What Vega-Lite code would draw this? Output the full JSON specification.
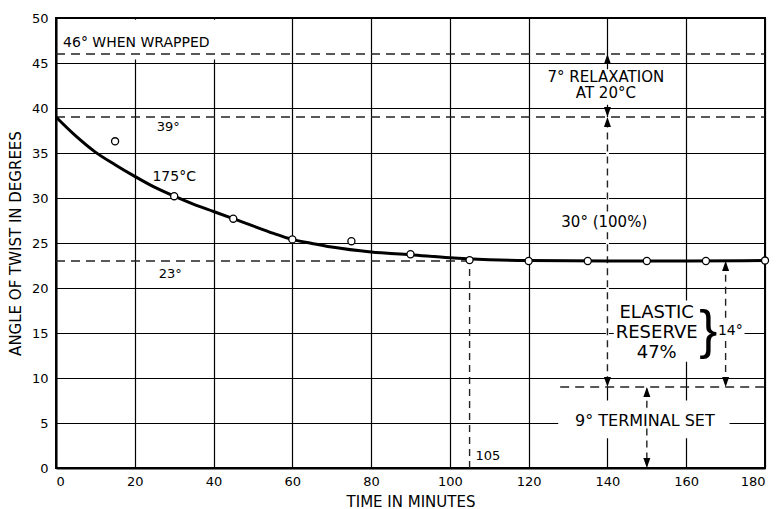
{
  "$schema": "https://vega.github.io/schema/vega-lite/v6.json",
  "width": 709,
  "height": 450,
  "autosize": {"type": "none"},
  "padding": {"left": 56, "top": 18, "right": 17, "bottom": 41},
  "background": "white",
  "config": {
    "font": "DejaVu Sans",
    "view": {"stroke": "black", "strokeWidth": 2},
    "axis": {
      "grid": true, "gridColor": "black", "gridOpacity": 1, "gridWidth": 1.2,
      "domainColor": "black", "domainWidth": 2, "ticks": false,
      "labelColor": "black", "labelFontSize": 13, "titleColor": "black",
      "titleFontSize": 15, "titleFontWeight": "normal"
    }
  },
  "datasets": {
    "curve": [
      {"x": 0, "y": 39.0}, {"x": 5, "y": 36.9}, {"x": 10, "y": 35.1}, {"x": 15, "y": 33.7},
      {"x": 20, "y": 32.4}, {"x": 25, "y": 31.2}, {"x": 30, "y": 30.2}, {"x": 35, "y": 29.3},
      {"x": 40, "y": 28.5}, {"x": 45, "y": 27.7}, {"x": 50, "y": 26.9}, {"x": 55, "y": 26.1},
      {"x": 60, "y": 25.4}, {"x": 65, "y": 24.95}, {"x": 70, "y": 24.55}, {"x": 80, "y": 24.0},
      {"x": 90, "y": 23.7}, {"x": 100, "y": 23.35}, {"x": 110, "y": 23.15}, {"x": 120, "y": 23.05},
      {"x": 140, "y": 23.0}, {"x": 160, "y": 23.0}, {"x": 180, "y": 23.05}
    ],
    "obs": [
      {"x": 15, "y": 36.3}, {"x": 30, "y": 30.2}, {"x": 45, "y": 27.7}, {"x": 60, "y": 25.4},
      {"x": 75, "y": 25.2}, {"x": 90, "y": 23.75}, {"x": 105, "y": 23.1}, {"x": 120, "y": 23.0},
      {"x": 135, "y": 23.0}, {"x": 150, "y": 23.0}, {"x": 165, "y": 23.0}, {"x": 180, "y": 23.05}
    ],
    "masks": [
      {"x": 0.8, "x2": 50, "y": 45.4, "y2": 49.8},
      {"x": 124, "x2": 155, "y": 40.35, "y2": 44.3},
      {"x": 141.6, "x2": 167.5, "y": 11.8, "y2": 18.6},
      {"x": 167.6, "x2": 174.8, "y": 14.2, "y2": 16.4},
      {"x": 127.5, "x2": 171, "y": 3.3, "y2": 7.5}
    ],
    "vmask": [{"x": 140, "y": 39, "y2": 9}],
    "hlines": [
      {"x": 0, "x2": 180, "y": 46}, {"x": 0, "x2": 180, "y": 39},
      {"x": 0, "x2": 105, "y": 23}, {"x": 128, "x2": 180, "y": 9}
    ],
    "vlines": [
      {"x": 140, "y": 38.6, "y2": 28.4}, {"x": 140, "y": 26.2, "y2": 9.2},
      {"x": 150, "y": 8.8, "y2": 6.2}, {"x": 150, "y": 4.4, "y2": 0.2},
      {"x": 170, "y": 22.8, "y2": 16.5}, {"x": 170, "y": 14.1, "y2": 9.2},
      {"x": 105, "y": 0, "y2": 23}
    ],
    "arrows": [
      {"x": 140, "y": 46, "dir": "up"}, {"x": 140, "y": 39, "dir": "down"},
      {"x": 140, "y": 39, "dir": "up"}, {"x": 140, "y": 9, "dir": "down"},
      {"x": 150, "y": 9, "dir": "up"}, {"x": 150, "y": 0, "dir": "down"},
      {"x": 170, "y": 23, "dir": "up"}, {"x": 170, "y": 9, "dir": "down"}
    ],
    "labels": [
      {"label": "46° WHEN WRAPPED", "x": 1.8, "y": 47.2, "kind": "left14"},
      {"label": "105", "x": 106.5, "y": 1.3, "kind": "left13"},
      {"label": "39°", "x": 28.5, "y": 37.9, "kind": "c13"},
      {"label": "23°", "x": 29, "y": 21.6, "kind": "c13"},
      {"label": "175°C", "x": 30, "y": 32.3, "kind": "c14"},
      {"label": "14°", "x": 171.2, "y": 15.2, "kind": "c14"},
      {"label": "7° RELAXATION", "x": 139.6, "y": 43.5, "kind": "c15"},
      {"label": "AT 20°C", "x": 139.6, "y": 41.7, "kind": "c15"},
      {"label": "30° (100%)", "x": 139.2, "y": 27.3, "kind": "c15"},
      {"label": "9° TERMINAL SET", "x": 149.5, "y": 5.2, "kind": "c16"},
      {"label": "ELASTIC", "x": 152.5, "y": 17.2, "kind": "c18"},
      {"label": "RESERVE", "x": 152.5, "y": 15.0, "kind": "c18"},
      {"label": "47%", "x": 152.5, "y": 12.8, "kind": "c18"}
    ],
    "brace": [{"label": "}", "x": 165.6, "y": 15.1}]
  },
  "encoding": {
    "x": {
      "field": "x", "type": "quantitative",
      "scale": {"domain": [0, 180], "nice": false},
      "axis": {"values": [0, 20, 40, 60, 80, 100, 120, 140, 160, 180], "title": "TIME IN MINUTES", "labelPadding": 7, "titlePadding": 6}
    },
    "y": {
      "field": "y", "type": "quantitative",
      "scale": {"domain": [0, 50], "nice": false},
      "axis": {"values": [0, 5, 10, 15, 20, 25, 30, 35, 40, 45, 50], "title": "ANGLE OF TWIST IN DEGREES", "labelPadding": 8, "titlePadding": 8}
    }
  },
  "layer": [
    {"data": {"name": "masks"}, "mark": {"type": "rect", "color": "white"}, "encoding": {"x2": {"field": "x2"}, "y2": {"field": "y2"}}},
    {"data": {"name": "vmask"}, "mark": {"type": "rule", "color": "white", "strokeWidth": 3}, "encoding": {"y2": {"field": "y2"}}},
    {"data": {"name": "hlines"}, "mark": {"type": "rule", "color": "#222", "strokeWidth": 1.4, "strokeDash": [9, 6]}, "encoding": {"x2": {"field": "x2"}}},
    {"data": {"name": "vlines"}, "mark": {"type": "rule", "color": "#222", "strokeWidth": 1.4, "strokeDash": [7, 5]}, "encoding": {"y2": {"field": "y2"}}},
    {"data": {"name": "curve"}, "mark": {"type": "line", "color": "black", "strokeWidth": 3, "interpolate": "monotone"}},
    {"data": {"name": "obs"}, "mark": {"type": "point", "shape": "circle", "filled": true, "fill": "white", "stroke": "black", "strokeWidth": 1.3, "size": 50, "opacity": 1}},
    {"data": {"name": "arrows"}, "mark": {"type": "point", "filled": true, "color": "black", "size": 400, "opacity": 1},
      "encoding": {"shape": {"field": "dir", "type": "nominal", "scale": {"domain": ["up", "down"], "range": ["M0,0L-0.35,1L0.35,1Z", "M0,0L-0.35,-1L0.35,-1Z"]}, "legend": null}}},
    {"data": {"name": "labels"}, "transform": [{"filter": "datum.kind == 'left14'"}], "mark": {"type": "text", "align": "left", "baseline": "middle", "fontSize": 14, "color": "black"}, "encoding": {"text": {"field": "label"}}},
    {"data": {"name": "labels"}, "transform": [{"filter": "datum.kind == 'left13'"}], "mark": {"type": "text", "align": "left", "baseline": "middle", "fontSize": 13, "color": "black"}, "encoding": {"text": {"field": "label"}}},
    {"data": {"name": "labels"}, "transform": [{"filter": "datum.kind == 'c13'"}], "mark": {"type": "text", "align": "center", "baseline": "middle", "fontSize": 13, "color": "black"}, "encoding": {"text": {"field": "label"}}},
    {"data": {"name": "labels"}, "transform": [{"filter": "datum.kind == 'c14'"}], "mark": {"type": "text", "align": "center", "baseline": "middle", "fontSize": 14, "color": "black"}, "encoding": {"text": {"field": "label"}}},
    {"data": {"name": "labels"}, "transform": [{"filter": "datum.kind == 'c15'"}], "mark": {"type": "text", "align": "center", "baseline": "middle", "fontSize": 15, "color": "black"}, "encoding": {"text": {"field": "label"}}},
    {"data": {"name": "labels"}, "transform": [{"filter": "datum.kind == 'c16'"}], "mark": {"type": "text", "align": "center", "baseline": "middle", "fontSize": 16, "color": "black"}, "encoding": {"text": {"field": "label"}}},
    {"data": {"name": "labels"}, "transform": [{"filter": "datum.kind == 'c18'"}], "mark": {"type": "text", "align": "center", "baseline": "middle", "fontSize": 18, "color": "black"}, "encoding": {"text": {"field": "label"}}},
    {"data": {"name": "brace"}, "mark": {"type": "text", "align": "center", "baseline": "middle", "fontSize": 54, "font": "Liberation Sans", "color": "black"}, "encoding": {"text": {"field": "label"}}}
  ]
}
